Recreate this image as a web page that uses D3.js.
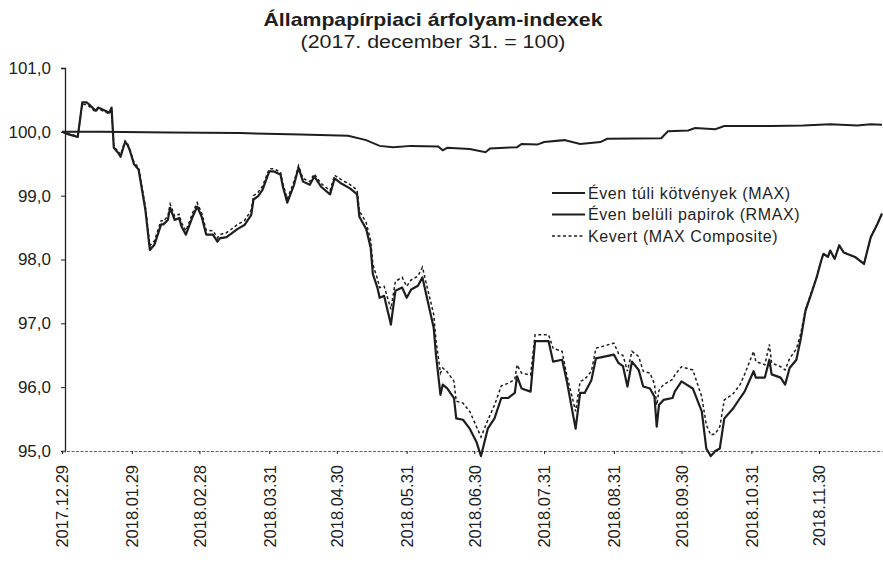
<!DOCTYPE html>
<html>
<head>
<meta charset="utf-8">
<script src="https://cdn.jsdelivr.net/npm/d3@7"></script>
<style>
  body { margin: 0; background: #fff; }
  svg { font-family: "Liberation Sans", Arial, sans-serif; }
</style>
</head>
<body>
<svg id="chart" width="883" height="564"></svg>
<script>
// Daily-ish points (MAX and Composite share dates)
const dates = [
  '2017-12-29','2018-01-01','2018-01-05','2018-01-07','2018-01-09','2018-01-10','2018-01-13','2018-01-14',
  '2018-01-16','2018-01-19','2018-01-20','2018-01-21','2018-01-23','2018-01-24','2018-01-26','2018-01-27',
  '2018-01-28','2018-01-30','2018-02-01','2018-02-02','2018-02-04','2018-02-06','2018-02-08','2018-02-11',
  '2018-02-12','2018-02-14','2018-02-15','2018-02-17','2018-02-19','2018-02-20','2018-02-22','2018-02-25',
  '2018-02-27','2018-03-01','2018-03-03','2018-03-06','2018-03-08','2018-03-09','2018-03-12','2018-03-14',
  '2018-03-17','2018-03-20','2018-03-23','2018-03-24','2018-03-26','2018-03-28','2018-03-31','2018-04-02',
  '2018-04-05','2018-04-06','2018-04-08','2018-04-11','2018-04-13','2018-04-15','2018-04-18','2018-04-20',
  '2018-04-23','2018-04-27','2018-04-29','2018-05-02','2018-05-06','2018-05-09','2018-05-10','2018-05-13',
  '2018-05-15','2018-05-16','2018-05-18','2018-05-19','2018-05-21','2018-05-24','2018-05-26','2018-05-29',
  '2018-05-31','2018-06-02','2018-06-05','2018-06-07','2018-06-09','2018-06-12','2018-06-13','2018-06-15',
  '2018-06-16','2018-06-18','2018-06-21','2018-06-22','2018-06-25','2018-06-28','2018-07-01','2018-07-03',
  '2018-07-06','2018-07-09','2018-07-12','2018-07-15','2018-07-18','2018-07-19','2018-07-21','2018-07-25',
  '2018-07-27','2018-08-02','2018-08-04','2018-08-08','2018-08-10','2018-08-14','2018-08-16','2018-08-18',
  '2018-08-21','2018-08-23','2018-08-31','2018-09-02','2018-09-04','2018-09-06','2018-09-08','2018-09-11',
  '2018-09-13','2018-09-16','2018-09-18','2018-09-19','2018-09-20','2018-09-22','2018-09-26','2018-09-27',
  '2018-09-30','2018-10-05','2018-10-09','2018-10-11','2018-10-13','2018-10-15','2018-10-17','2018-10-19',
  '2018-10-23','2018-10-26','2018-10-28','2018-11-01','2018-11-02','2018-11-06','2018-11-08','2018-11-09',
  '2018-11-13','2018-11-15','2018-11-17','2018-11-20','2018-11-22','2018-11-24','2018-11-26','2018-11-29',
  '2018-12-01','2018-12-02','2018-12-04','2018-12-05','2018-12-07','2018-12-09','2018-12-11','2018-12-16',
  '2018-12-20','2018-12-23','2018-12-26','2018-12-28'
];

const maxValues = [
  100.00, 99.96, 99.92, 100.46, 100.46, 100.43, 100.33, 100.38,
  100.35, 100.30, 100.38, 99.75, 99.67, 99.61, 99.84, 99.80,
  99.72, 99.49, 99.41, 99.20, 98.78, 98.15, 98.23, 98.55,
  98.55, 98.62, 98.81, 98.62, 98.65, 98.52, 98.39, 98.67,
  98.83, 98.67, 98.39, 98.39, 98.28, 98.33, 98.35, 98.40,
  98.48, 98.54, 98.70, 98.94, 98.99, 99.09, 99.38, 99.38,
  99.33, 99.15, 98.89, 99.17, 99.44, 99.22, 99.17, 99.30,
  99.14, 99.02, 99.27, 99.19, 99.11, 99.02, 98.67, 98.48,
  98.19, 97.77, 97.56, 97.40, 97.43, 96.98, 97.51, 97.56,
  97.40, 97.53, 97.59, 97.72, 97.40, 96.93, 96.51, 95.88,
  96.04, 95.98, 95.83, 95.51, 95.49, 95.35, 95.14, 94.92,
  95.35, 95.51, 95.83, 95.83, 95.91, 96.17, 95.98, 95.93,
  96.72, 96.72, 96.40, 96.43, 96.11, 95.35, 95.91, 95.91,
  96.11, 96.45, 96.51, 96.38, 96.33, 96.01, 96.40, 96.27,
  96.01, 95.98, 95.85, 95.38, 95.72, 95.80, 95.83, 95.93,
  96.09, 95.98, 95.62, 95.04, 94.92, 95.00, 95.04, 95.51,
  95.67, 95.83, 95.93, 96.25, 96.15, 96.15, 96.43, 96.20,
  96.15, 96.04, 96.30, 96.43, 96.77, 97.19, 97.40, 97.72,
  97.98, 98.09, 98.04, 98.14, 98.01, 98.22, 98.11, 98.04,
  97.93, 98.35, 98.56, 98.72
];

const compositeValues = [
  100.00, 99.97, 99.93, 100.43, 100.43, 100.40, 100.31, 100.36,
  100.33, 100.28, 100.36, 99.77, 99.69, 99.64, 99.86, 99.82,
  99.74, 99.52, 99.44, 99.24, 98.83, 98.22, 98.29, 98.61,
  98.60, 98.68, 98.87, 98.68, 98.71, 98.58, 98.45, 98.73,
  98.89, 98.73, 98.46, 98.45, 98.34, 98.39, 98.42, 98.47,
  98.55, 98.61, 98.77, 99.00, 99.05, 99.15, 99.42, 99.42,
  99.37, 99.20, 98.95, 99.22, 99.47, 99.27, 99.22, 99.34,
  99.19, 99.08, 99.32, 99.25, 99.17, 99.09, 98.76, 98.58,
  98.30, 97.92, 97.70, 97.56, 97.58, 97.22, 97.66, 97.72,
  97.58, 97.68, 97.74, 97.88, 97.58, 97.14, 96.74, 96.22,
  96.30, 96.24, 96.09, 95.78, 95.75, 95.62, 95.38, 95.22,
  95.48, 95.72, 96.02, 96.06, 96.12, 96.35, 96.22, 96.19,
  96.82, 96.82, 96.61, 96.56, 96.20, 95.62, 96.09, 96.12,
  96.25, 96.61, 96.69, 96.53, 96.50, 96.25, 96.56, 96.48,
  96.25, 96.22, 96.05, 95.72, 95.95, 96.04, 96.12, 96.19,
  96.32, 96.27, 95.85, 95.41, 95.25, 95.27, 95.38, 95.80,
  95.90, 96.04, 96.20, 96.56, 96.40, 96.35, 96.67, 96.38,
  96.32, 96.27, 96.45, 96.60, 96.85, 97.22, 97.42, 97.73,
  97.98, 98.09, 98.04, 98.14, 98.01, 98.22, 98.11, 98.04,
  97.93, 98.35, 98.56, 98.72
];

// RMAX (short-term paper) is nearly flat, so fewer points
const rmaxDates = [
  '2017-12-29','2018-01-15','2018-02-15','2018-03-18','2018-04-14','2018-05-05','2018-05-13','2018-05-19',
  '2018-05-25','2018-06-02','2018-06-14','2018-06-16','2018-06-18','2018-06-28','2018-07-05','2018-07-07',
  '2018-07-19','2018-07-21','2018-07-28','2018-07-31','2018-08-09','2018-08-16','2018-08-25','2018-08-28',
  '2018-09-21','2018-09-24','2018-10-03','2018-10-06','2018-10-15','2018-10-19','2018-11-09','2018-11-23',
  '2018-12-05','2018-12-17','2018-12-23','2018-12-28'
];
const rmaxValues = [
  100.00, 100.00, 99.99, 99.98, 99.96, 99.94, 99.87, 99.78,
  99.76, 99.78, 99.77, 99.71, 99.75, 99.73, 99.68, 99.74,
  99.76, 99.81, 99.80, 99.84, 99.87, 99.81, 99.84, 99.89,
  99.90, 100.01, 100.02, 100.06, 100.04, 100.09, 100.09, 100.10,
  100.12, 100.10, 100.12, 100.11
];

const tickDates = [
  '2017-12-29','2018-01-29','2018-02-28','2018-03-31','2018-04-30','2018-05-31',
  '2018-06-30','2018-07-31','2018-08-31','2018-09-30','2018-10-31','2018-11-30'
];
const yTicks = [95, 96, 97, 98, 99, 100, 101];

const seriesNames = ['Éven túli kötvények (MAX)', 'Éven belüli papirok (RMAX)', 'Kevert (MAX Composite)'];

const parse = d3.timeParse('%Y-%m-%d');
const svg = d3.select('svg#chart');
const ink = '#1e1e1e';
const font = '"Liberation Sans", Arial, sans-serif';

const x = d3.scaleTime()
  .domain([parse('2017-12-29'), parse('2018-12-28')])
  .range([62, 882]);
const y = d3.scaleLinear().domain([95, 101]).range([451, 68]);

const line = d3.line()
  .x(d => x(d.date))
  .y(d => y(d.value));

const maxData = dates.map((d, i) => ({date: parse(d), value: maxValues[i]}));
const compData = dates.map((d, i) => ({date: parse(d), value: compositeValues[i]}));
const rmaxData = rmaxDates.map((d, i) => ({date: parse(d), value: rmaxValues[i]}));

// Title (scan is a bit wider than Liberation Sans, so stretch slightly)
svg.append('text')
  .attr('x', 433).attr('y', 26)
  .attr('text-anchor', 'middle')
  .attr('font-size', 19).attr('font-weight', 'bold').attr('fill', ink)
  .attr('textLength', 339).attr('lengthAdjust', 'spacingAndGlyphs')
  .text('Állampapírpiaci árfolyam-indexek');
svg.append('text')
  .attr('x', 433).attr('y', 48)
  .attr('text-anchor', 'middle')
  .attr('font-size', 18).attr('fill', ink)
  .attr('textLength', 265).attr('lengthAdjust', 'spacingAndGlyphs')
  .text('(2017. december 31. = 100)');

// Y axis
const yAxis = svg.append('g')
  .attr('transform', 'translate(65,0)')
  .call(d3.axisLeft(y).tickValues(yTicks).tickSize(4).tickPadding(10)
    .tickFormat(d => d3.format('.1f')(d).replace('.', ',')));
yAxis.select('.domain').attr('stroke', ink).attr('stroke-width', 1.3);
yAxis.selectAll('.tick line').attr('stroke', ink);
yAxis.selectAll('text').attr('font-size', 17).attr('fill', ink)
  .attr('font-family', font);

// X axis
const xAxis = svg.append('g')
  .attr('transform', 'translate(0,451)')
  .call(d3.axisBottom(x).tickValues(tickDates.map(parse)).tickSize(3).tickSizeOuter(0)
    .tickFormat(d3.timeFormat('%Y.%m.%d')));
xAxis.select('.domain').attr('stroke', '#666').attr('stroke-width', 1).attr('stroke-dasharray', '3,1.5');
xAxis.selectAll('.tick line').attr('stroke', ink);
xAxis.selectAll('text')
  .attr('font-size', 16.5).attr('fill', ink)
  .attr('font-family', font)
  .attr('text-anchor', 'end')
  .attr('transform', 'rotate(-90)')
  .attr('x', -14).attr('y', 0).attr('dy', '0.35em');

// Lines
svg.append('path').datum(rmaxData)
  .attr('fill', 'none').attr('stroke', ink).attr('stroke-width', 2)
  .attr('d', line);
svg.append('path').datum(compData)
  .attr('fill', 'none').attr('stroke', ink).attr('stroke-width', 1.5)
  .attr('stroke-dasharray', '3,2.5')
  .attr('d', line);
svg.append('path').datum(maxData)
  .attr('fill', 'none').attr('stroke', ink).attr('stroke-width', 2.2)
  .attr('stroke-linejoin', 'round')
  .attr('d', line);

// Legend
const legend = svg.append('g').attr('transform', 'translate(552,193)');
seriesNames.forEach((name, i) => {
  const row = legend.append('g').attr('transform', `translate(0,${i * 21.5})`);
  row.append('line')
    .attr('x1', 0).attr('x2', 33).attr('y1', 0).attr('y2', 0)
    .attr('stroke', ink).attr('stroke-width', i === 2 ? 1.5 : 2)
    .attr('stroke-dasharray', i === 2 ? '3,2.5' : null);
  row.append('text')
    .attr('x', 36).attr('y', 0).attr('dy', '0.35em')
    .attr('font-size', 16).attr('fill', ink)
    .attr('letter-spacing', 0.6)
    .text(name);
});
</script>
</body>
</html>
